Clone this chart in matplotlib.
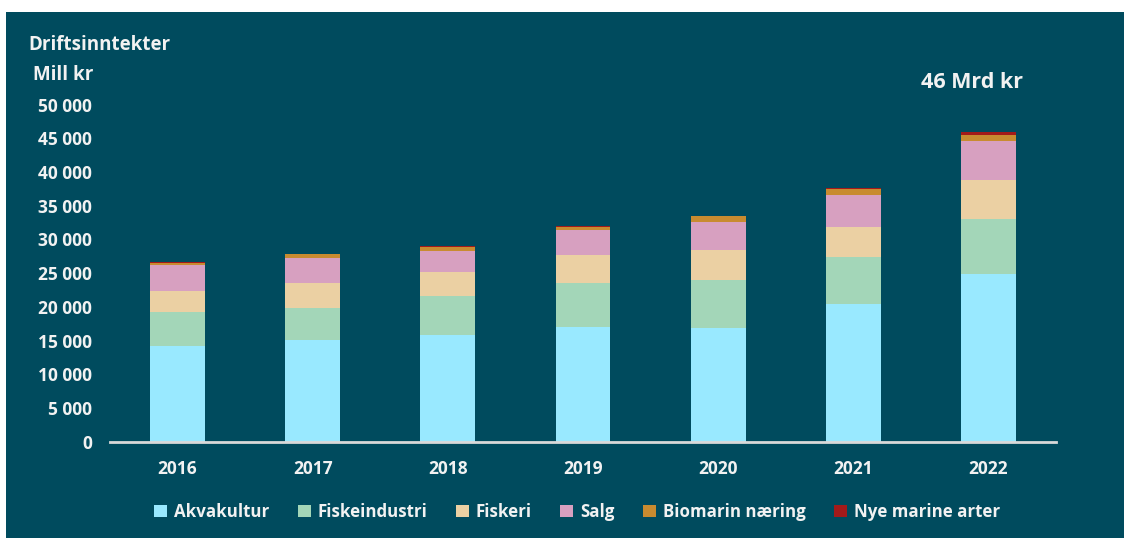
import numpy as np
import matplotlib
matplotlib.use("Agg")
import matplotlib.pyplot as plt
from matplotlib.patches import Rectangle

plt.rcParams['font.family'] = ['Open Sans', 'DejaVu Sans']
plt.rcParams['font.weight'] = 'bold'

# data (Mill kr)
years = ['2016', '2017', '2018', '2019', '2020', '2021', '2022']
series = ['Akvakultur', 'Fiskeindustri', 'Fiskeri', 'Salg', 'Biomarin næring', 'Nye marine arter']
akvakultur = [14200, 15100, 15900, 17000, 16900, 20400, 24900]
fiskeindustri = [5050, 4800, 5700, 6550, 7150, 7000, 8100]
fiskeri = [3150, 3700, 3650, 4150, 4350, 4500, 5900]
salg = [3800, 3650, 3000, 3750, 4150, 4650, 5650]
biomarin = [350, 550, 700, 400, 900, 900, 900]
nye_arter = [150, 100, 150, 200, 100, 150, 500]
yticks = [0, 5000, 10000, 15000, 20000, 25000, 30000, 35000, 40000, 45000, 50000]

colors = ['#99E9FF', '#A3D6B8', '#EBD0A3', '#D7A0C0', '#C88B30', '#A31A1A']
bg = '#004B5E'
txt = '#F2F2F2'

fig = plt.figure(figsize=(11.24, 5.38), dpi=100, facecolor='white')
# teal panel with a thin white margin top/left
fig.patches.append(Rectangle((6 / 1124, 0), 1, 526 / 538, transform=fig.transFigure,
                             facecolor=bg, edgecolor='none', zorder=-10))

ax = fig.add_axes([110 / 1124, (538 - 441.7) / 538, (1056 - 110) / 1124, 337 / 538])
ax.set_facecolor('none')

x = np.arange(len(years))
bottom = np.zeros(len(years))
for name, vals, c in zip(series, [akvakultur, fiskeindustri, fiskeri, salg, biomarin, nye_arter], colors):
    ax.bar(x, vals, width=0.405, bottom=bottom, color=c, label=name, zorder=2)
    bottom += np.array(vals)

ax.set_xlim(-0.5, len(years) - 0.5)
ax.set_ylim(0, 50000)
ax.set_xticks(x)
ax.set_xticklabels(years)
ax.set_yticks(yticks)
ax.set_yticklabels([f"{v:,}".replace(',', ' ') for v in yticks])
ax.tick_params(axis='both', length=0, colors=txt, labelsize=12.5)
ax.tick_params(axis='y', pad=13)
ax.tick_params(axis='x', pad=13)
for s in ['top', 'right', 'left']:
    ax.spines[s].set_visible(False)
ax.spines['bottom'].set_color('#D9D9D9')
ax.spines['bottom'].set_linewidth(2)
ax.spines['bottom'].set_zorder(3)

fig.text(28 / 1124, 1 - 45.5 / 538, 'Driftsinntekter', color=txt, fontsize=13.5,
         fontweight='bold', va='center', ha='left')
fig.text(33 / 1124, 1 - 75 / 538, 'Mill kr', color=txt, fontsize=13.5,
         fontweight='bold', va='center', ha='left')
fig.text(972 / 1124, 1 - 83 / 538, '46 Mrd kr', color=txt, fontsize=15.5,
         fontweight='bold', va='center', ha='center')

leg = fig.legend(loc='center', bbox_to_anchor=(577 / 1124, 1 - 512 / 538), ncol=6,
                 frameon=False, fontsize=12.2, handlelength=0.75, handleheight=0.75,
                 handletextpad=0.4, columnspacing=1.7)
for t in leg.get_texts():
    t.set_color(txt)

fig.savefig('out.png', dpi=100, facecolor='white')
